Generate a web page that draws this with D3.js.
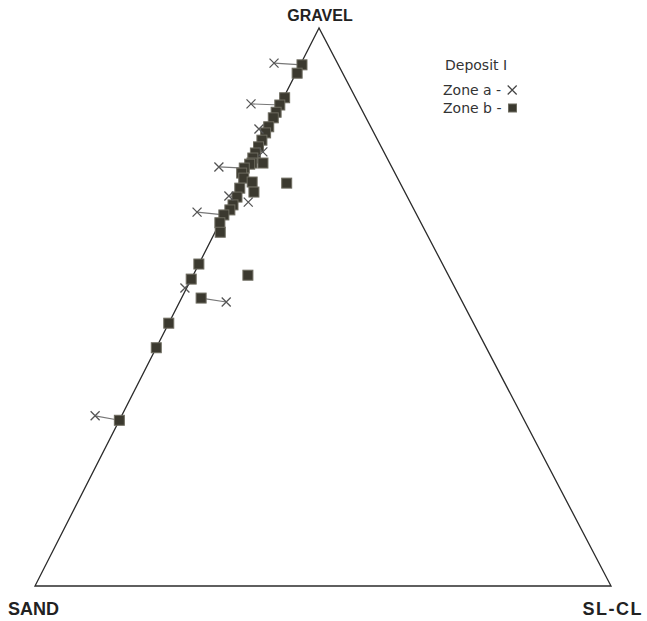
<!DOCTYPE html>
<html>
<head>
<meta charset="utf-8">
<style>
  html, body { margin: 0; padding: 0; background: #fff; }
  #chart { width: 647px; height: 621px; }
</style>
</head>
<body>
<div id="chart"></div>
<script src="https://cdn.jsdelivr.net/npm/d3@7/dist/d3.min.js"></script>
<script>
// corner labels of the ternary diagram
const cornerLabels = ["GRAVEL", "SAND", "SL-CL"];

// zone b samples (squares): gravel % and silt-clay %, sand is the rest
const zoneBGravel = [93.4, 91.9, 87.5, 86.2, 84.9, 83.9, 82.3, 81.2, 79.9, 78.7, 77.6, 76.7,
  75.8, 75.8, 75.6, 74.9, 74.0, 73.1, 72.4, 71.3, 70.6, 72.2, 69.7, 68.3, 67.4, 66.5, 65.1,
  63.4, 57.7, 55.0, 55.7, 51.6, 47.1, 42.7, 29.7];
const zoneBSlcl = [0.3, 0.2, 0.2, 0, 0, 0, 0, 0, 0, 0, 0, 0,
  2.2, 0.3, 0, -0.6, -0.6, 0.2, 2.0, 0.4, 3.2, 8.1, 0.7, 0.7, 0.6, 0, 0,
  0.9, 0, 0, 9.5, 3.4, 0, 0, 0];

// zone a samples (crosses), and the zone b sample each one is tied to
const zoneAGravel = [93.7, 86.4, 81.9, 77.8, 75.1, 69.9, 68.8, 67.0, 53.4, 50.9, 30.5];
const zoneASlcl = [-4.7, -5.1, -1.5, 1.2, -5.1, -0.8, 3.1, -4.9, -0.3, 8.1, -4.6];
const zoneATie = [0, 3, null, null, 15, 22, null, 25, null, 31, 34];

const legendTitle = "Deposit I";
const legendItems = ["Zone a -", "Zone b -"];

const width = 647, height = 621;
const svg = d3.select("#chart").append("svg")
  .attr("width", width).attr("height", height)
  .attr("viewBox", `0 0 ${width} ${height}`);

// ternary projection: gravel sets height, silt-clay shifts to the right
const yScale = d3.scaleLinear().domain([0, 100]).range([586, 28]);
const xScale = d3.scaleLinear().domain([0, 100]).range([35, 611]);
const apexShare = (319 - 35) / (611 - 35);
const project = (g, c) => [xScale(c + g * apexShare), yScale(g)];

const corners = [project(100, 0), project(0, 0), project(0, 100)];
svg.append("path")
  .attr("d", d3.line()(corners) + "Z")
  .attr("fill", "none")
  .attr("stroke", "#2b2b2b")
  .attr("stroke-width", 1.3);

const labelFont = "'Liberation Sans', Arial, sans-serif";
svg.append("text")
  .attr("x", corners[0][0] + 1).attr("y", 21)
  .attr("text-anchor", "middle")
  .style("font-family", labelFont).style("font-weight", "bold")
  .style("font-size", "16px").attr("fill", "#222")
  .text(cornerLabels[0]);
svg.append("text")
  .attr("x", 8).attr("y", 615)
  .style("font-family", labelFont).style("font-weight", "bold")
  .style("font-size", "18px").attr("fill", "#222")
  .text(cornerLabels[1]);
svg.append("text")
  .attr("x", 643).attr("y", 615)
  .attr("text-anchor", "end")
  .style("font-family", labelFont).style("font-weight", "bold")
  .style("font-size", "18px").style("letter-spacing", "1.5px").attr("fill", "#222")
  .text(cornerLabels[2]);

const zoneB = zoneBGravel.map((g, i) => project(g, zoneBSlcl[i]));
const zoneA = zoneAGravel.map((g, i) => ({ p: project(g, zoneASlcl[i]), tie: zoneATie[i] }));

// tie lines between zone a and zone b of the same sample
svg.selectAll(".tie")
  .data(zoneA.filter(d => d.tie !== null))
  .enter().append("line")
  .attr("class", "tie")
  .attr("x1", d => d.p[0]).attr("y1", d => d.p[1])
  .attr("x2", d => zoneB[d.tie][0]).attr("y2", d => zoneB[d.tie][1])
  .attr("stroke", "#777").attr("stroke-width", 1.2);

const sq = 10;
svg.selectAll(".sq")
  .data(zoneB)
  .enter().append("rect")
  .attr("class", "sq")
  .attr("x", d => d[0] - sq / 2).attr("y", d => d[1] - sq / 2)
  .attr("width", sq).attr("height", sq)
  .attr("fill", "#3b392f").attr("stroke", "#6e6c60").attr("stroke-width", 1);

const xr = 4.5;
const crossPath = p => `M${p[0] - xr},${p[1] - xr}L${p[0] + xr},${p[1] + xr}M${p[0] - xr},${p[1] + xr}L${p[0] + xr},${p[1] - xr}`;
svg.selectAll(".xa")
  .data(zoneA)
  .enter().append("path")
  .attr("class", "xa")
  .attr("d", d => crossPath(d.p))
  .attr("fill", "none").attr("stroke", "#555").attr("stroke-width", 1.3);

// legend
const legendFont = "'DejaVu Sans', Verdana, sans-serif";
const lg = svg.append("g").attr("transform", "translate(443,70)");
lg.append("text").attr("x", 2).attr("y", 0)
  .style("font-family", legendFont).style("font-size", "14px").attr("fill", "#333")
  .text(legendTitle);
legendItems.forEach((t, i) => {
  const y = 25 + i * 18;
  const txt = lg.append("text").attr("x", 0).attr("y", y)
    .style("font-family", legendFont).style("font-size", "14px").attr("fill", "#333")
    .text(t);
  const w = txt.node().getComputedTextLength();
  const cx = w + 11, cy = y - 5;
  if (i === 0) {
    lg.append("path").attr("d", crossPath([cx, cy]))
      .attr("fill", "none").attr("stroke", "#444").attr("stroke-width", 1.2);
  } else {
    lg.append("rect").attr("x", cx - 4).attr("y", cy - 4).attr("width", 8).attr("height", 8)
      .attr("fill", "#3b392f").attr("stroke", "#6e6c60").attr("stroke-width", 1);
  }
});
</script>
</body>
</html>
